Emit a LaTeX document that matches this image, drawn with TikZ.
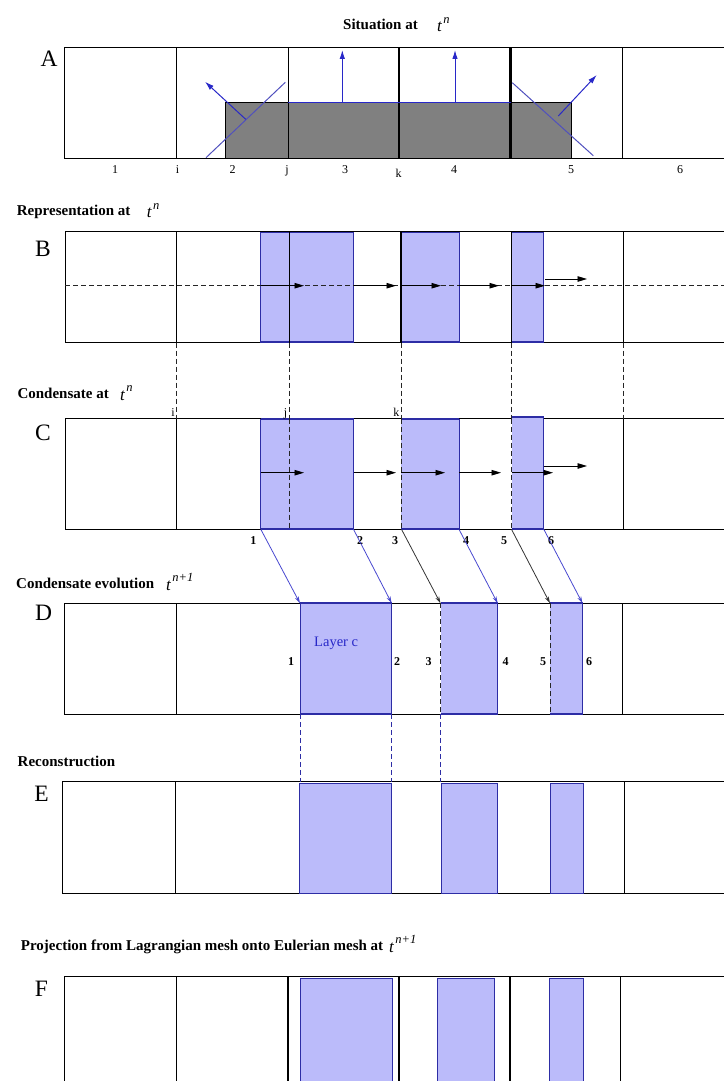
\documentclass[tikz,border=0pt]{standalone}
\usepackage{fontspec}
\setmainfont{Liberation Serif}
\usetikzlibrary{arrows.meta}
\definecolor{blueln}{RGB}{40,40,200}
\definecolor{ifaceln}{RGB}{80,80,190}
\definecolor{rectedge}{RGB}{45,45,165}
\definecolor{condfill}{RGB}{187,187,250}
\definecolor{solidgray}{RGB}{128,128,128}
\newcommand\tsup[1]{t\kern1.5pt\raisebox{8.5pt}{\fontsize{12.5}{12.5}\selectfont #1}}
\begin{document}
\begin{tikzpicture}[x=1pt,y=-1pt,
  mesh/.style={draw=black, line width=0.9pt},
  midmesh/.style={draw=black, line width=1.4pt},
  thickmesh/.style={draw=black, line width=2.2pt},
  cellfill/.style={fill=condfill},
  celledge/.style={draw=rectedge, line width=1pt},
  celledgeb/.style={draw=rectedge, line width=1.8pt},
  guide/.style={draw=black!85, line width=0.8pt, dash pattern=on 5pt off 3pt},
  bguide/.style={draw=rectedge, line width=0.8pt, dash pattern=on 5pt off 3pt},
  ttl/.style={anchor=base west, inner sep=0pt, font=\bfseries\fontsize{15}{17}\selectfont},
  tsym/.style={anchor=base west, inner sep=0pt, font=\itshape\fontsize{17}{18}\selectfont},
  panel/.style={anchor=base, inner sep=0pt, font=\fontsize{23.5}{25}\selectfont},
  lab/.style={anchor=base, inner sep=0pt, font=\fontsize{12}{13}\selectfont},
  blab/.style={anchor=base, inner sep=0pt, font=\bfseries\fontsize{12}{13}\selectfont},
  flowarr/.style={draw=black, line width=0.9pt, -{Triangle[length=9.5pt,width=5.5pt]}},
  normvec/.style={draw=blueln, line width=1pt, -{Latex[length=9pt,width=5.5pt]}},
  movearr/.style={draw=blueln!85!white, line width=0.8pt, -{Stealth[length=7pt,width=4pt]}},
  movearrk/.style={draw=black!80, line width=0.8pt, -{Stealth[length=7pt,width=4pt]}},
]
\useasboundingbox (0,0) rectangle (723,1081);

% ================= A =================
\node[ttl] (tA) at (343,30) {Situation at};
\node[tsym] (sA) at (437,32) {\tsup{n}};
\node[panel] (pA) at (49,66.7) {A};
\draw[mesh] (64.5,47.7) rectangle (726,158.3);
\fill[solidgray] (225.7,102.7) rectangle (571.7,158.3);
\draw[mesh,line width=0.8pt] (225.7,102.7) rectangle (571.7,158.3);
\foreach \xx in {176.5,288,622} \draw[mesh] (\xx,47.7) -- (\xx,158.3);
\foreach \xx in {398.8,510.5} \draw[thickmesh] (\xx,47.7) -- (\xx,158.3);
\draw[blueln, line width=1.2pt] (288,102.7) -- (510.5,102.7);
\coordinate (a3b) at (342.3,102.7); \coordinate (a3t) at (342.3,50);
\coordinate (a4b) at (455,102.7); \coordinate (a4t) at (455,50);
\draw[normvec] (a3b) -- (a3t);
\draw[normvec] (a4b) -- (a4t);
\coordinate (lf1) at (206,157.7); \coordinate (lf2) at (285.3,82.3);
\coordinate (ln1) at (245.7,119.3); \coordinate (ln2) at (205,81.7);
\coordinate (rf1) at (512.3,82.7); \coordinate (rf2) at (593.3,155.7);
\coordinate (rn1) at (558.3,116); \coordinate (rn2) at (596.7,75);
\draw[ifaceln, line width=1pt] (lf1) -- (lf2);
\draw[ifaceln, line width=1pt] (rf1) -- (rf2);
\draw[normvec] (ln1) -- (ln2);
\draw[normvec] (rn1) -- (rn2);
\node[lab] (la1) at (115,173.3) {1};
\node[lab] (lai) at (177.5,173.3) {i};
\node[lab] (la2) at (232.7,173.3) {2};
\node[lab] (laj) at (287,173.3) {j};
\node[lab] (la3) at (345,173.3) {3};
\node[lab] (lak) at (398.6,177.5) {k};
\node[lab] (la4) at (454,173.3) {4};
\node[lab] (la5) at (571,173.3) {5};
\node[lab] (la6) at (680,173.3) {6};

% ================= B =================
\node[ttl] (tB) at (16.7,215.7) {Representation at};
\node[tsym] (sB) at (146.7,217.7) {\tsup{n}};
\node[panel] (pB) at (43,256) {B};
\draw[mesh] (65,231.7) rectangle (726,342.7);
\foreach \xa/\xb in {260.8/353.5,401/459,511.5/543.8}{
  \fill[cellfill] (\xa,232.5) rectangle (\xb,342);
  \draw[celledge] (\xa,232.5) rectangle (\xb,342);
  \draw[celledgeb] (\xa,232.5) -- (\xb,232.5);
  \draw[celledgeb] (\xa,342) -- (\xb,342);
}
\foreach \xx in {176.5,289,623} \draw[mesh] (\xx,231.7) -- (\xx,342.7);
\foreach \xx in {401,511.5} \draw[thickmesh,line width=1.8pt] (\xx,231.7) -- (\xx,342.7);
\draw[guide, line width=0.9pt] (65,285.7) -- (726,285.7);
\foreach \xa/\xb [count=\n] in {260.8/304,353.5/396,401/441,459/499,511.5/545}{
  \coordinate (bs\n) at (\xa,285.7); \coordinate (be\n) at (\xb,285.7);
  \draw[flowarr] (bs\n) -- (be\n);
}
\coordinate (bu1) at (545,279); \coordinate (bu2) at (587,279);
\draw[flowarr] (bu1) -- (bu2);

% ================= C =================
\node[ttl] (tC) at (17.3,398.3) {Condensate at};
\node[tsym] (sC) at (120,400) {\tsup{n}};
\node[panel] (pC) at (43,440.5) {C};
\draw[mesh] (65,418.7) rectangle (726,529.3);
\foreach \xx in {176.5,623} \draw[mesh] (\xx,418.7) -- (\xx,529.3);
\foreach \xa/\xb/\yt in {260.8/353.5/418.7,401/459/418.7,511.5/543.8/417.3}{
  \fill[cellfill] (\xa,\yt) rectangle (\xb,529.3);
  \draw[celledge] (\xb,\yt) -- (\xb,529.3);
  \draw[celledgeb] (\xa,\yt) -- (\xb,\yt);
  \draw[celledgeb] (\xa,529.3) -- (\xb,529.3);
}
\draw[celledge] (260.8,418.7) -- (260.8,529.3);
% guides from B to C
\foreach \xx [count=\n] in {176.5,289,401,511.5,623}{
  \coordinate (gB\n) at (\xx,342.7); \coordinate (gC\n) at (\xx,418.7);
  \draw[guide] (gB\n) -- (gC\n);
}
\foreach \xx [count=\n] in {289,401,511.5}{
  \coordinate (gt\n) at (\xx,418.7); \coordinate (gb\n) at (\xx,529.3);
  \draw[guide] (gt\n) -- (gb\n);
}
\node[lab, anchor=base east] (lci) at (175,416) {i};
\node[lab, anchor=base east] (lcj) at (287.5,416) {j};
\node[lab, anchor=base east] (lck) at (399.5,416) {k};
\foreach \xa/\xb [count=\n] in {260.8/304,353.5/396,401/445,459/501,511.5/553}{
  \coordinate (cs\n) at (\xa,472.7); \coordinate (ce\n) at (\xb,472.7);
  \draw[flowarr] (cs\n) -- (ce\n);
}
\coordinate (cu1) at (543.8,466); \coordinate (cu2) at (587,466);
\draw[flowarr] (cu1) -- (cu2);
\foreach \xx/\t [count=\n] in {253.3/1,360/2,395/3,466/4,504/5,551/6}
  \node[blab] (lc\n) at (\xx,544) {\t};

% ================= D =================
\node[ttl] (tD) at (16,588.3) {Condensate evolution};
\node[tsym] (sD) at (166,590) {\tsup{n+1}};
\node[panel] (pD) at (43.5,620) {D};
\draw[mesh] (64.5,603.3) rectangle (726,714.3);
\foreach \xx in {176.5,622} \draw[mesh] (\xx,603.3) -- (\xx,714.3);
\foreach \xa/\xb in {300/391.7,440.5/497.7,550/582.5}{
  \fill[cellfill] (\xa,603.3) rectangle (\xb,714.3);
  \draw[celledge] (\xb,603.3) -- (\xb,714.3);
  \draw[celledgeb] (\xa,603.3) -- (\xb,603.3);
  \draw[celledgeb] (\xa,714.3) -- (\xb,714.3);
}
\draw[celledge] (300,603.3) -- (300,714.3);
\foreach \xx [count=\n] in {440.5,550}{
  \coordinate (dt\n) at (\xx,603.3); \coordinate (db\n) at (\xx,714.3);
  \draw[guide] (dt\n) -- (db\n);
}
\node[anchor=base west, inner sep=0pt, text=blueln, font=\fontsize{14.5}{16}\selectfont] (layer) at (314,646) {Layer c};
\foreach \xx/\t [count=\n] in {291/1,397/2,428.6/3,505.5/4,543/5,589/6}
  \node[blab] (ld\n) at (\xx,665) {\t};
% movement connectors C -> D
\coordinate (cb1) at (260.8,529.3); \coordinate (dd1) at (300,603.3);
\coordinate (cb2) at (353.5,529.3); \coordinate (dd2) at (391.7,603.3);
\coordinate (cb3) at (401.5,529.3); \coordinate (dd3) at (440.5,603.3);
\coordinate (cb4) at (459,529.3); \coordinate (dd4) at (497.7,603.3);
\coordinate (cb5) at (511.5,529.3); \coordinate (dd5) at (550,603.3);
\coordinate (cb6) at (543.8,529.3); \coordinate (dd6) at (582.5,603.3);
\draw[movearr] (cb1) -- (dd1);
\draw[movearr] (cb2) -- (dd2);
\draw[movearrk] (cb3) -- (dd3);
\draw[movearr] (cb4) -- (dd4);
\draw[movearrk] (cb5) -- (dd5);
\draw[movearr] (cb6) -- (dd6);

% ================= E =================
\node[ttl] (tE) at (17.5,766) {Reconstruction};
\node[panel] (pE) at (41.5,801.7) {E};
\draw[mesh] (62.5,781.7) rectangle (726,893.3);
\foreach \xx in {175.6,624.5} \draw[mesh] (\xx,781.7) -- (\xx,893.3);
\foreach \xa/\xb in {299.5/391.7,441/497.7,550.7/583}{
  \fill[cellfill] (\xa,783.2) rectangle (\xb,893.3);
  \draw[celledge] (\xa,783.2) rectangle (\xb,893.3);
}
\foreach \xx [count=\n] in {300,391.7,440.8}{
  \coordinate (eD\n) at (\xx,714.3); \coordinate (eE\n) at (\xx,781.7);
  \draw[bguide] (eD\n) -- (eE\n);
}

% ================= F =================
\node[ttl] (tF) at (20.7,950) {Projection from Lagrangian mesh onto Eulerian mesh at};
\node[tsym] (sF) at (389,952) {\tsup{n+1}};
\node[panel] (pF) at (41.5,996.7) {F};
\draw[mesh] (64.5,976) rectangle (726,1090);
\foreach \xa/\xb in {300/392,437/494.5,549.8/583}{
  \fill[cellfill] (\xa,978.3) rectangle (\xb,1090);
  \draw[celledge] (\xa,978.3) rectangle (\xb,1090);
}
\foreach \xx in {176.5,620.7} \draw[mesh] (\xx,976) -- (\xx,1090);
\draw[midmesh] (288,976) -- (288,1090);
\foreach \xx in {398.6,510} \draw[thickmesh] (\xx,976) -- (\xx,1090);
\end{tikzpicture}
\end{document}
